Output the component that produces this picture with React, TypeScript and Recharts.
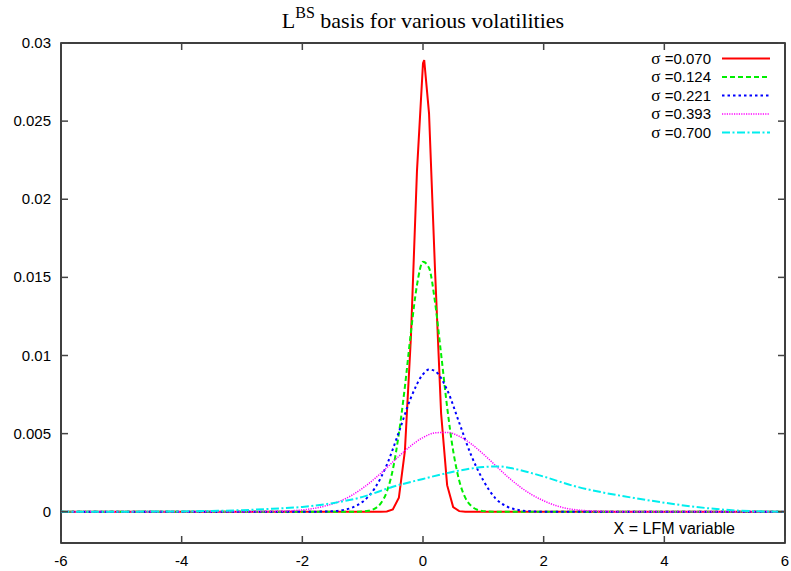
import React from "react"
import { LineChart, Line, XAxis, YAxis, ReferenceArea } from "recharts"

// axis ticks
const xTicks = [-6, -4, -2, 0, 2, 4, 6]
const yTicks = [0, 0.005, 0.01, 0.015, 0.02, 0.025, 0.03]
const sigmaLabels = ["0.070", "0.124", "0.221", "0.393", "0.700"]

// sigma = 0.070
const redX = [-6, -1, -0.7, -0.6, -0.5, -0.4, -0.3, -0.2, -0.1, 0, 0.02, 0.1, 0.2, 0.3, 0.4, 0.5, 0.6, 0.7, 1, 6]
const redY = [0, 0, 0, 0.00002, 0.00015, 0.0009, 0.0039, 0.0112, 0.0218, 0.0287, 0.0289, 0.0255, 0.0154, 0.0063, 0.0017, 0.0003, 0.00004, 0, 0, 0]

// sigma = 0.124
const greenX = [-6, -1.2, -1, -0.9, -0.8, -0.7, -0.6, -0.5, -0.4, -0.3, -0.2, -0.1, 0, 0.1, 0.2, 0.3, 0.4, 0.5, 0.6, 0.7, 0.8, 0.9, 1, 1.2, 6]
const greenY = [0, 0, 0.00002, 0.00006, 0.0002, 0.00054, 0.00128, 0.0027, 0.005, 0.008, 0.0115, 0.0145, 0.016, 0.0156, 0.0134, 0.0101, 0.0067, 0.0039, 0.002, 0.0009, 0.00037, 0.00013, 0.00004, 0, 0]

// sigma = 0.221
const blueX = [-6, -2, -1.6, -1.4, -1.2, -1, -0.8, -0.6, -0.4, -0.2, 0, 0.1, 0.2, 0.4, 0.6, 0.8, 1, 1.2, 1.4, 1.6, 1.8, 2, 6]
const blueY = [0, 0, 0.00002, 0.00007, 0.00023, 0.00064, 0.0015, 0.003, 0.0051, 0.0073, 0.0088, 0.0091, 0.009, 0.0078, 0.0057, 0.0036, 0.002, 0.00086, 0.00032, 0.0001, 0.00003, 0, 0]

// sigma = 0.393
const magentaX = [-6, -3.4, -3, -2.6, -2.2, -2, -1.8, -1.6, -1.4, -1.2, -1, -0.8, -0.6, -0.4, -0.2, 0, 0.2, 0.4, 0.6, 0.8, 1, 1.2, 1.4, 1.6, 1.8, 2, 2.2, 2.4, 2.6, 2.8, 3, 3.4, 6]
const magentaY = [0, 0, 0.000003, 0.000013, 0.00006, 0.00012, 0.00022, 0.00039, 0.00064, 0.00101, 0.00151, 0.00212, 0.00282, 0.00355, 0.00422, 0.00475, 0.00505, 0.00508, 0.00483, 0.00434, 0.00369, 0.00297, 0.00225, 0.00162, 0.0011, 0.0007, 0.0004, 0.0002, 0.0001, 0.00005, 0.00002, 0, 0]

// sigma = 0.700
const cyanX = [-6, -5, -4.5, -4, -3.5, -3, -2.5, -2, -1.5, -1, -0.5, 0, 0.5, 1, 1.25, 1.5, 2, 2.5, 3, 3.5, 4, 4.5, 5, 5.5, 6]
const cyanY = [0, 0.000005, 0.00001, 0.00002, 0.00005, 0.0001, 0.00019, 0.00031, 0.00055, 0.00095, 0.0016, 0.0021, 0.00256, 0.00286, 0.0029, 0.00276, 0.00225, 0.00165, 0.00122, 0.00088, 0.00058, 0.00032, 0.00013, 0.00003, 0]

const zip = (xs: number[], ys: number[]) => xs.map((x, i) => ({ x, y: ys[i] }))

const series = [
  { name: sigmaLabels[0], data: zip(redX, redY), color: "#ff0000", dash: undefined, width: 2, curve: "linear" },
  { name: sigmaLabels[1], data: zip(greenX, greenY), color: "#00ee00", dash: "5 3", width: 2, curve: "monotone" },
  { name: sigmaLabels[2], data: zip(blueX, blueY), color: "#0000ff", dash: "2.5 3", width: 2, curve: "monotone" },
  { name: sigmaLabels[3], data: zip(magentaX, magentaY), color: "#ff00ff", dash: "1.2 1.2", width: 1.5, curve: "monotone" },
  { name: sigmaLabels[4], data: zip(cyanX, cyanY), color: "#00eeee", dash: "8 2.5 2 2.5", width: 2, curve: "monotone" },
]

const W = 791
const H = 571
const LEFT = 61
const RIGHT = 785
const TOP = 43
const BOTTOM = 543
const TICK = 7
const SANS = "'Liberation Sans', Arial, sans-serif"
const SERIF = "'Liberation Serif', 'Times New Roman', serif"

function YTick({ x, y, payload }: any) {
  return (
    <g>
      <line x1={LEFT} x2={LEFT + TICK} y1={y} y2={y} stroke="#444" strokeWidth={1.5} />
      <line x1={RIGHT - TICK} x2={RIGHT} y1={y} y2={y} stroke="#444" strokeWidth={1.5} />
      <text x={x} y={y} dy={5} textAnchor="end" fontSize={15} fontFamily={SANS} fill="#000">
        {payload.value}
      </text>
    </g>
  )
}

function XTick({ x, y, payload }: any) {
  return (
    <g>
      <line x1={x} x2={x} y1={BOTTOM - TICK} y2={BOTTOM} stroke="#444" strokeWidth={1.5} />
      <line x1={x} x2={x} y1={TOP} y2={TOP + TICK} stroke="#444" strokeWidth={1.5} />
      <text x={x} y={y} dy={13} textAnchor="middle" fontSize={15} fontFamily={SANS} fill="#000">
        {payload.value}
      </text>
    </g>
  )
}

export default function App() {
  return (
    <div style={{ position: "absolute", left: 0, top: 0, width: W, height: H, background: "#fff" }}>
      <LineChart width={W} height={H} margin={{ top: TOP, right: W - RIGHT, bottom: 0, left: 0 }}>
        <XAxis
          type="number"
          dataKey="x"
          domain={[-6, 6]}
          ticks={xTicks}
          interval={0}
          allowDataOverflow
          axisLine={false}
          tickLine={false}
          tickSize={0}
          tickMargin={10}
          height={H - BOTTOM}
          tick={<XTick />}
        />
        <YAxis
          type="number"
          domain={[-0.002, 0.03]}
          ticks={yTicks}
          interval={0}
          allowDataOverflow
          axisLine={false}
          tickLine={false}
          tickSize={0}
          tickMargin={10}
          width={LEFT}
          tick={<YTick />}
        />
        {series.map((s) => (
          <Line
            key={s.name}
            name={s.name}
            data={s.data}
            dataKey="y"
            type={s.curve as any}
            stroke={s.color}
            strokeWidth={s.width}
            strokeDasharray={s.dash}
            dot={false}
            activeDot={false}
            isAnimationActive={false}
          />
        ))}
        <ReferenceArea x1={-6} x2={6} y1={-0.002} y2={0.03} fill="none" stroke="#000" strokeWidth={1.5} />
      </LineChart>

      <svg width={W} height={H} style={{ position: "absolute", left: 0, top: 0, pointerEvents: "none" }}>
        <text x={423} y={28} textAnchor="middle" fontFamily={SERIF} fontSize={22} fill="#000">
          L<tspan dy={-10} fontSize={16}>BS</tspan>
          <tspan dy={10}> basis for various volatilities</tspan>
        </text>
        {series.map((s, i) => {
          const cy = 58.5 + i * 18.5
          return (
            <g key={s.name}>
              <text x={711} y={cy} dy={5} textAnchor="end" fontSize={15} fontFamily={SANS} fill="#000">
                <tspan fontFamily={SERIF} fontSize={17}>σ</tspan> ={s.name}
              </text>
              <line x1={722} x2={770} y1={cy} y2={cy} stroke={s.color} strokeWidth={s.width} strokeDasharray={s.dash} />
            </g>
          )
        })}
        <text x={735} y={534} textAnchor="end" fontSize={16} fontFamily={SANS} fill="#000">
          X = LFM variable
        </text>
      </svg>
    </div>
  )
}
